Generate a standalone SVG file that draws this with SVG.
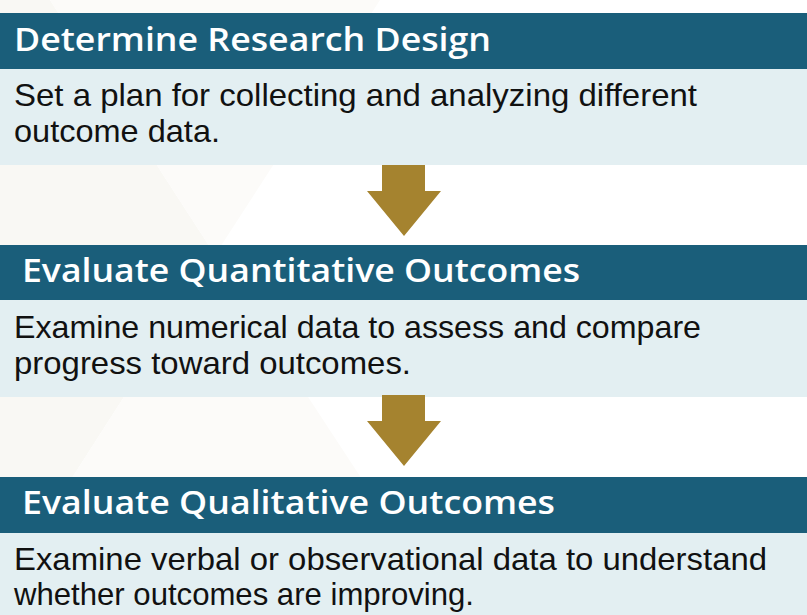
<svg xmlns="http://www.w3.org/2000/svg" width="807" height="615" viewBox="0 0 807 615">
  <style>
    .hdr { fill: #1a5e7a; }
    .body { fill: #e3eff2; }
    .hdr-text { font-family: "Open Sans", "Lato", "Liberation Sans", sans-serif; font-weight: 600; font-size: 33px; fill: #ffffff; }
    .body-text { font-family: "Liberation Sans Narrow", "Liberation Sans", "Noto Sans", sans-serif; font-size: 32px; fill: #111111; }
    .arrow { fill: #a5832f; }
  </style>

  <!-- faint background pattern -->
  <g id="background">
    <rect x="0" y="0" width="807" height="615" fill="#ffffff"/>
    <polygon points="0,0 50,0 215,255 -16,615 0,615" fill="#f9f8f4"/>
    <polygon points="50,0 380,0 215,255" fill="#fcfbf9"/>
    <polygon points="215,255 451,615 -16,615" fill="#fcfbf9"/>
  </g>

  <!-- step 1 -->
  <g id="step-design">
    <rect class="hdr" x="0" y="13" width="807" height="56"/>
    <rect class="body" x="0" y="69" width="807" height="96"/>
    <text class="hdr-text" x="14" y="51" textLength="477" lengthAdjust="spacingAndGlyphs">Determine Research Design</text>
    <text class="body-text" x="14" y="106" textLength="683" lengthAdjust="spacingAndGlyphs">Set a plan for collecting and analyzing different</text>
    <text class="body-text" x="14" y="142" textLength="206" lengthAdjust="spacingAndGlyphs">outcome data.</text>
  </g>

  <!-- step 2 -->
  <g id="step-quantitative">
    <rect class="hdr" x="0" y="245" width="807" height="55"/>
    <rect class="body" x="0" y="300" width="807" height="97"/>
    <text class="hdr-text" x="22" y="282" textLength="558" lengthAdjust="spacingAndGlyphs">Evaluate Quantitative Outcomes</text>
    <text class="body-text" x="14" y="338" textLength="687" lengthAdjust="spacingAndGlyphs">Examine numerical data to assess and compare</text>
    <text class="body-text" x="14" y="374" textLength="397" lengthAdjust="spacingAndGlyphs">progress toward outcomes.</text>
  </g>

  <!-- step 3 -->
  <g id="step-qualitative">
    <rect class="hdr" x="0" y="477" width="807" height="56"/>
    <rect class="body" x="0" y="533" width="807" height="82"/>
    <text class="hdr-text" x="22" y="514" textLength="533" lengthAdjust="spacingAndGlyphs">Evaluate Qualitative Outcomes</text>
    <text class="body-text" x="14" y="570" textLength="753" lengthAdjust="spacingAndGlyphs">Examine verbal or observational data to understand</text>
    <text class="body-text" x="14" y="605" textLength="460" lengthAdjust="spacingAndGlyphs">whether outcomes are improving.</text>
  </g>

  <!-- connectors -->
  <g id="connectors">
    <polygon class="arrow" points="382,165 425,165 425,191 441,191 404,236 367,191 382,191"/>
    <polygon class="arrow" points="382,395 425,395 425,421 441,421 404,466 367,421 382,421"/>
  </g>
</svg>
